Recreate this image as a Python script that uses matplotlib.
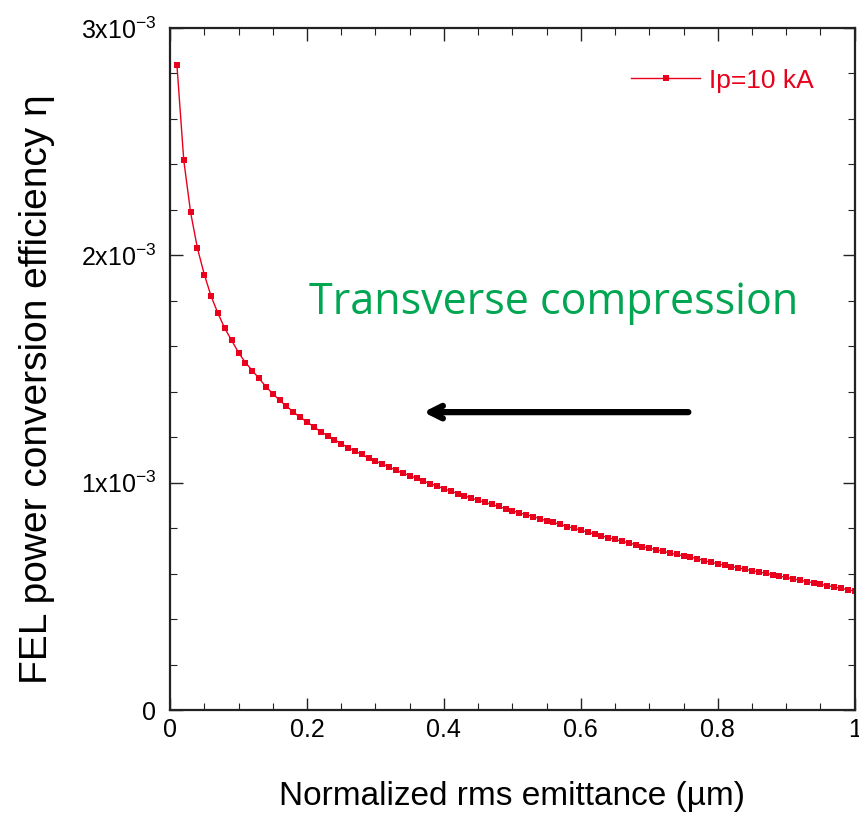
import matplotlib
matplotlib.use("Agg")
import matplotlib.pyplot as plt
from matplotlib.ticker import MultipleLocator, FixedLocator, FixedFormatter

plt.rcParams['font.family'] = ['Liberation Sans', 'DejaVu Sans']
plt.rcParams['mathtext.fontset'] = 'custom'
plt.rcParams['mathtext.rm'] = 'Liberation Sans'
plt.rcParams['mathtext.it'] = 'Liberation Sans:italic'

# normalized rms emittance (um)
emittance = [
    0.01, 0.02, 0.03, 0.04, 0.05, 0.06, 0.07, 0.08, 0.09, 0.10,
    0.11, 0.12, 0.13, 0.14, 0.15, 0.16, 0.17, 0.18, 0.19, 0.20,
    0.21, 0.22, 0.23, 0.24, 0.25, 0.26, 0.27, 0.28, 0.29, 0.30,
    0.31, 0.32, 0.33, 0.34, 0.35, 0.36, 0.37, 0.38, 0.39, 0.40,
    0.41, 0.42, 0.43, 0.44, 0.45, 0.46, 0.47, 0.48, 0.49, 0.50,
    0.51, 0.52, 0.53, 0.54, 0.55, 0.56, 0.57, 0.58, 0.59, 0.60,
    0.61, 0.62, 0.63, 0.64, 0.65, 0.66, 0.67, 0.68, 0.69, 0.70,
    0.71, 0.72, 0.73, 0.74, 0.75, 0.76, 0.77, 0.78, 0.79, 0.80,
    0.81, 0.82, 0.83, 0.84, 0.85, 0.86, 0.87, 0.88, 0.89, 0.90,
    0.91, 0.92, 0.93, 0.94, 0.95, 0.96, 0.97, 0.98, 0.99, 1.00,
]

# FEL power conversion efficiency, in units of 1e-3
eta_1e3 = [
    2.836, 2.417, 2.188, 2.030, 1.915, 1.819, 1.744, 1.678, 1.625, 1.572,
    1.528, 1.493, 1.458, 1.422, 1.391, 1.362, 1.336, 1.311, 1.287, 1.267,
    1.245, 1.224, 1.207, 1.189, 1.171, 1.154, 1.139, 1.124, 1.108, 1.095,
    1.082, 1.069, 1.054, 1.042, 1.031, 1.019, 1.007, 0.996, 0.985, 0.973,
    0.963, 0.952, 0.942, 0.932, 0.922, 0.913, 0.904, 0.895, 0.885, 0.876,
    0.867, 0.859, 0.851, 0.842, 0.832, 0.825, 0.816, 0.807, 0.799, 0.791,
    0.782, 0.774, 0.766, 0.758, 0.750, 0.742, 0.735, 0.727, 0.719, 0.712,
    0.705, 0.698, 0.691, 0.684, 0.678, 0.672, 0.666, 0.657, 0.650, 0.643,
    0.637, 0.631, 0.625, 0.619, 0.613, 0.607, 0.601, 0.595, 0.589, 0.583,
    0.577, 0.571, 0.565, 0.559, 0.553, 0.547, 0.541, 0.535, 0.529, 0.523,
]
eta = [v * 1e-3 for v in eta_1e3]

y_ticks = [0, 1e-3, 2e-3, 3e-3]
y_tick_labels = ['0', r'$\mathregular{1x10^{-3}}$', r'$\mathregular{2x10^{-3}}$',
                 r'$\mathregular{3x10^{-3}}$']
x_ticks = [0, 0.2, 0.4, 0.6, 0.8, 1.0]
x_tick_labels = ['0', '0.2', '0.4', '0.6', '0.8', '1']

red = '#e8001c'

fig = plt.figure(figsize=(8.59, 8.18), dpi=100)
ax = fig.add_axes([0.198, 0.132, 0.797, 0.834])

ax.plot(emittance, eta, '-', color=red, lw=1.0, marker='s', markersize=4.8,
        markeredgewidth=0, label='Ip=10 kA')

ax.set_xlim(0, 1)
ax.set_ylim(0, 3e-3)
ax.xaxis.set_major_locator(FixedLocator(x_ticks))
ax.xaxis.set_major_formatter(FixedFormatter(x_tick_labels))
ax.xaxis.set_minor_locator(MultipleLocator(0.05))
ax.yaxis.set_major_locator(FixedLocator(y_ticks))
ax.yaxis.set_major_formatter(FixedFormatter(y_tick_labels))
ax.yaxis.set_minor_locator(MultipleLocator(0.2e-3))

ax.tick_params(which='both', direction='in', top=True, right=True,
               colors='#222222', labelcolor='black', labelsize=18)
ax.tick_params(which='major', length=9, width=1.0)
ax.tick_params(which='minor', length=5, width=0.8)
ax.tick_params(axis='x', pad=6)
ax.tick_params(axis='y', pad=10)
for s in ax.spines.values():
    s.set_linewidth(1.6)
    s.set_color('#222222')

ax.set_xlabel('Normalized rms emittance (\u00b5m)', fontsize=24, labelpad=28)
ax.set_ylabel('FEL power conversion efficiency \u03b7', fontsize=28)
ax.yaxis.set_label_coords(-0.168, 0.47)

leg = ax.legend(loc='upper right', bbox_to_anchor=(0.975, 0.975), frameon=False,
                fontsize=19, handlelength=2.6, handletextpad=0.35,
                markerscale=0.9)
for t in leg.get_texts():
    t.set_color(red)

# annotation: shrinking the beam moves the operating point left
ax.text(0.56, 1.79e-3, 'Transverse compression', color='#00a651',
        fontsize=31, family=['Open Sans', 'DejaVu Sans'],
        ha='center', va='center')
ax.annotate('', xy=(0.37, 1.31e-3), xytext=(0.757, 1.31e-3),
            arrowprops=dict(arrowstyle='->,head_length=0.9,head_width=0.45',
                            color='black', lw=4.5, shrinkA=0, shrinkB=0))

fig.savefig('out.png', dpi=100, facecolor='white')
